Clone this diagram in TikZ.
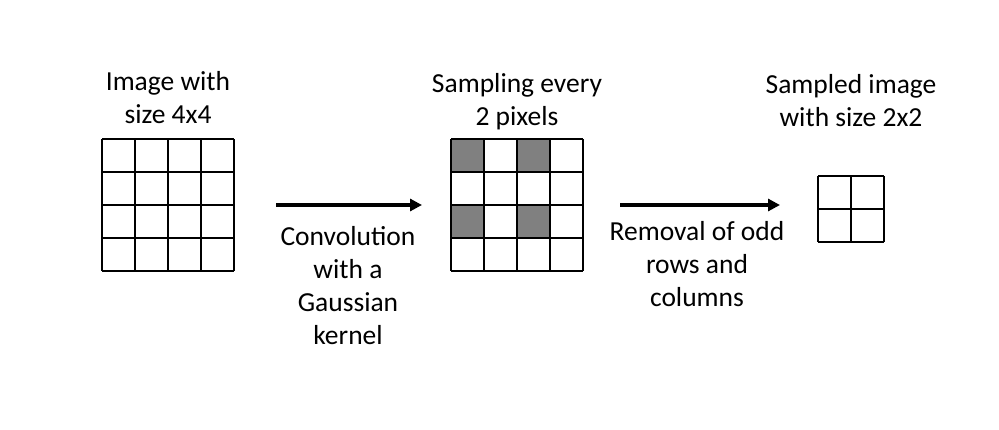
\documentclass[tikz,border=0pt]{standalone}
\usepackage{fontspec}
\setmainfont{Carlito}
\usetikzlibrary{arrows.meta}
\begin{document}
\begin{tikzpicture}[x=1pt,y=-1pt,
  lbl/.style={align=center,inner sep=0pt,anchor=base,font=\fontsize{27.5}{33}\selectfont},
  gridline/.style={line width=2pt,black},
  flow/.style={line width=4pt,-{Triangle[length=12pt,width=12pt]}},
  pix/.style={fill=black!50,draw=none}]
\useasboundingbox (0,0) rectangle (999,429);
% grid 1
\begin{scope}[shift={(102,139)}]
\foreach \i in {0,...,4}{
  \draw[gridline] (\i*33,0) -- (\i*33,132);
  \draw[gridline] (0,\i*33) -- (132,\i*33);
}
\end{scope}
% grid 2
\begin{scope}[shift={(451,139)}]
\fill[pix] (0,0) rectangle (33,33);
\fill[pix] (66,0) rectangle (99,33);
\fill[pix] (0,66) rectangle (33,99);
\fill[pix] (66,66) rectangle (99,99);
\foreach \i in {0,...,4}{
  \draw[gridline] (\i*33,0) -- (\i*33,132);
  \draw[gridline] (0,\i*33) -- (132,\i*33);
}
\end{scope}
% grid 3
\begin{scope}[shift={(818,176)}]
\foreach \i in {0,...,2}{
  \draw[gridline] (\i*33,0) -- (\i*33,66);
  \draw[gridline] (0,\i*33) -- (66,\i*33);
}
\end{scope}
% labels (anchor = baseline of last line)
\node[lbl] (t1) at (168,123) {Image with\\size 4x4};
\node[lbl] (t2) at (517,125) {Sampling every\\2 pixels};
\node[lbl] (t3) at (851,126) {Sampled image\\with size 2x2};
\node[lbl] (t4) at (348,344) {Convolution\\with a\\Gaussian\\kernel};
\node[lbl] (t5) at (697,306) {Removal of odd\\rows and\\columns};
% arrows
\coordinate (a1s) at (276,205);
\coordinate (a1e) at (422,205);
\coordinate (a2s) at (620,205);
\coordinate (a2e) at (780,205);
\draw[flow] (a1s) -- (a1e);
\draw[flow] (a2s) -- (a2e);
\end{tikzpicture}
\end{document}
